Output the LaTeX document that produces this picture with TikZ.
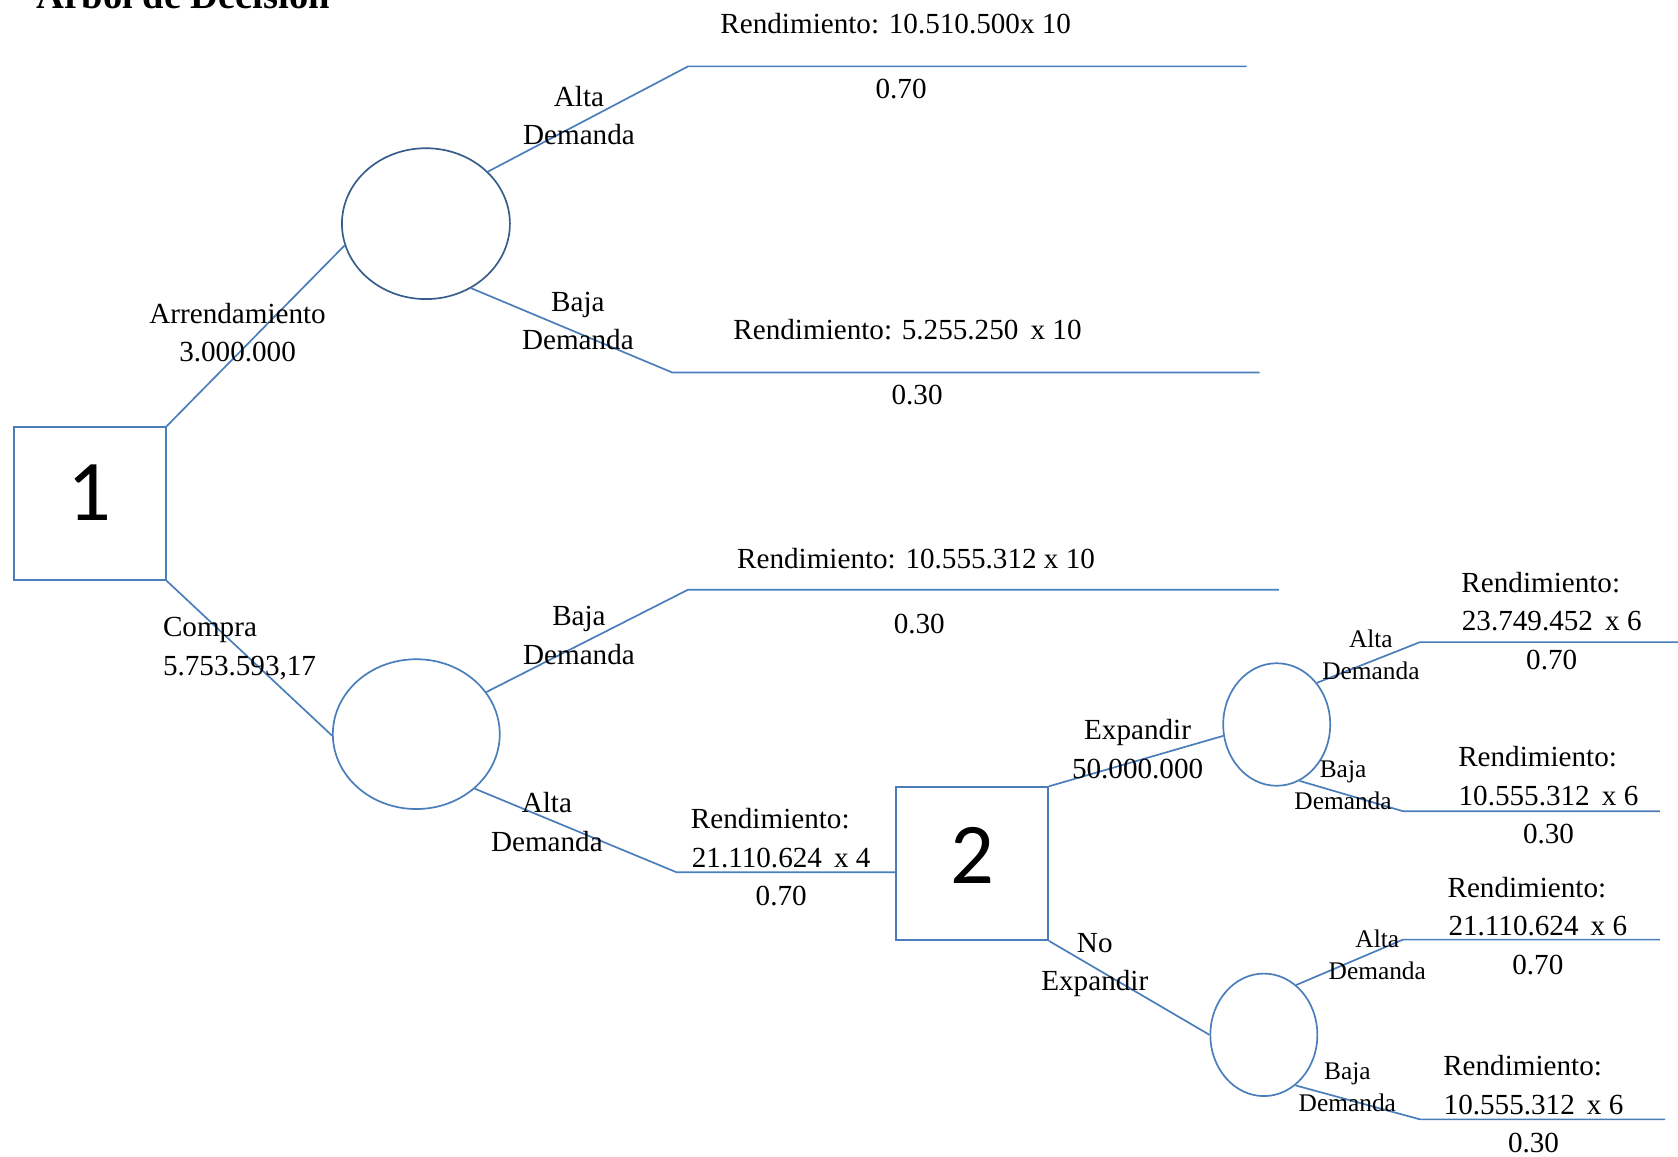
\documentclass[tikz,border=0pt]{standalone}
\usepackage{fontspec}
\setmainfont{Liberation Serif}
\newfontfamily\numfont{Carlito}
\usetikzlibrary{shapes.geometric,calc}
\definecolor{lnblue}{RGB}{74,126,187}
\definecolor{dkblue}{RGB}{56,93,138}
\begin{document}
\begin{tikzpicture}[x=0.02cm,y=-0.02cm,
  conn/.style={draw=lnblue,line width=0.9pt},
  decbox/.style={draw=lnblue,line width=0.9pt,minimum width=2.84cm,minimum height=2.86cm,inner sep=0pt,font=\numfont\fontsize{46}{46}\selectfont},
  chance/.style={ellipse,draw=lnblue,line width=0.9pt,inner sep=0pt},
  lbl/.style={font=\fontsize{15.5}{20.5}\selectfont,align=center,inner sep=0pt},
  slbl/.style={font=\fontsize{13.5}{17}\selectfont,align=center,inner sep=0pt},
]
\useasboundingbox (0,0) rectangle (1568,1081);

% title (cut off at the top, as in the reference)
\node[anchor=base west,font=\bfseries\fontsize{20.5}{20.5}\selectfont,inner sep=0pt] (title) at (34,8) {Arbol de Decisión};

% decision and chance nodes
\node[decbox] (b1) at (84,470.5) {\raisebox{6pt}[\height][0pt]{1}};
\node[decbox] (b2) at (908.5,807) {\raisebox{4.5pt}[\height][0pt]{2}};
\node[chance,draw=dkblue,minimum width=3.14cm,minimum height=2.82cm] (cA) at (398,209) {};
\node[chance,minimum width=3.12cm,minimum height=2.8cm] (cB) at (389,686) {};
\node[chance,minimum width=2cm,minimum height=2.29cm] (cC) at (1193,677) {};
\node[chance,minimum width=2cm,minimum height=2.29cm] (cD) at (1181,967) {};

% junctions and free ends
\coordinate (a1) at (643,62);   \coordinate (a1e) at (1165,62);
\coordinate (a2) at (628,348);  \coordinate (a2e) at (1177,348);
\coordinate (bj1) at (643,551); \coordinate (bj1e) at (1195,551);
\coordinate (bj2) at (632,815);
\coordinate (c1) at (1327,600); \coordinate (c1e) at (1568,600);
\coordinate (c2) at (1311,758); \coordinate (c2e) at (1551,758);
\coordinate (d1) at (1311,878); \coordinate (d1e) at (1551,878);
\coordinate (d2) at (1327,1046); \coordinate (d2e) at (1556,1046);

% connectors
\draw[conn] (b1.north east) -- (cA.195);
\draw[conn] (b1.south east) -- (cB.181);
\draw[conn] (cA.40) -- (a1) -- (a1e);
\draw[conn] (cA.-55) -- (a2) -- (a2e);
\draw[conn] (cB.31) -- (bj1) -- (bj1e);
\draw[conn] (cB.-43) -- (bj2) -- (bj2 -| b2.west);
\draw[conn] (b2.north east) -- (cC.192);
\draw[conn] (b2.south east) -- (cD.180);
\draw[conn] (cC.46) -- (c1) -- (c1e);
\draw[conn] (cC.-68) -- (c2) -- (c2e);
\draw[conn] (cD.57) -- (d1) -- (d1e);
\draw[conn] (cD.-58) -- (d2) -- (d2e);

% labels
\node[lbl] (lArr) at (222,311) {Arrendamiento\\3.000.000};
\node[lbl,align=left,anchor=west] (lCom) at (152,606) {Compra\\5.753.593,17};

\node[lbl] (lA1) at (541,108) {Alta\\Demanda};
\node[lbl] (rA1) at (837,22) {Rendimiento: 10.510.500x 10};
\node[lbl] (pA1) at (842,83) {0.70};

\node[lbl] (lA2) at (540,300) {Baja\\Demanda};
\node[lbl] (rA2) at (848,308) {Rendimiento: 5.255.250 \,x 10};
\node[lbl] (pA2) at (857,369) {0.30};

\node[lbl] (lB1) at (541,594) {Baja\\Demanda};
\node[lbl] (rB1) at (856,522) {Rendimiento: 10.555.312 x 10};
\node[lbl] (pB1) at (859,583) {0.30};

\node[lbl] (lB2) at (511,768) {Alta\\Demanda};
\node[lbl] (rB2) at (730,801) {Rendimiento:\hspace*{0.75em}\\21.110.624 \,x 4\\0.70};

\node[lbl] (lExp) at (1063,700) {Expandir\\50.000.000};
\node[lbl] (lNo) at (1023,902) {No\\Expandir};

\node[slbl] (lC1) at (1281,612) {Alta\\Demanda};
\node[lbl] (rC1) at (1450,580) {Rendimiento:\hspace*{0.75em}\\23.749.452 \,x 6\\0.70};
\node[slbl] (lC2) at (1255,734) {Baja\\Demanda};
\node[lbl] (rC2) at (1447,743) {Rendimiento:\hspace*{0.75em}\\10.555.312 \,x 6\\0.30};

\node[slbl] (lD1) at (1287,892) {Alta\\Demanda};
\node[lbl] (rD1) at (1437,865) {Rendimiento:\hspace*{0.75em}\\21.110.624 \,x 6\\0.70};
\node[slbl] (lD2) at (1259,1016) {Baja\\Demanda};
\node[lbl] (rD2) at (1433,1032) {Rendimiento:\hspace*{0.75em}\\10.555.312 \,x 6\\0.30};
\end{tikzpicture}
\end{document}
